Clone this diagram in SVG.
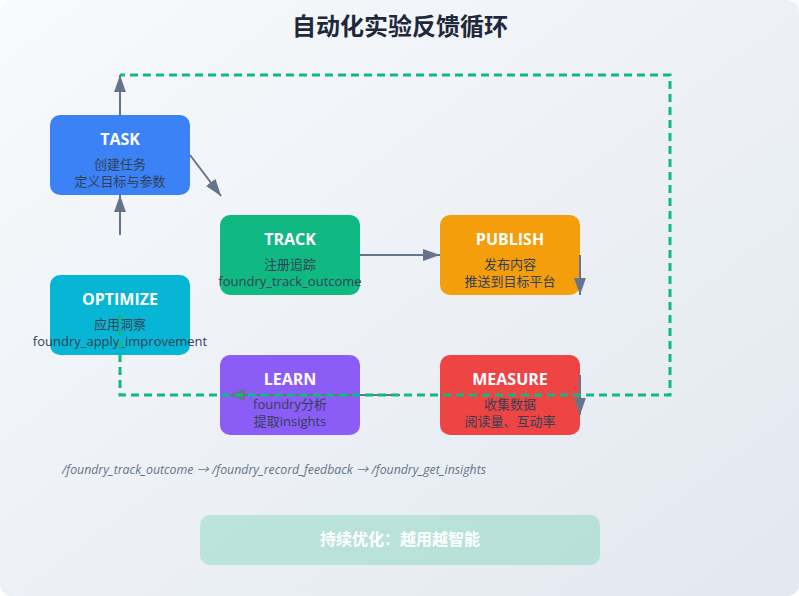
<svg xmlns="http://www.w3.org/2000/svg" width="799" height="596" viewBox="0 0 799 596">
  <defs>
    <linearGradient id="bg" x1="0" y1="0" x2="1" y2="1">
      <stop offset="0" stop-color="#f8fafc"/>
      <stop offset="1" stop-color="#e2e8f0"/>
    </linearGradient>
    <marker id="arr" viewBox="0 0 10 7" refX="10" refY="3.5" markerWidth="17" markerHeight="12" markerUnits="userSpaceOnUse" orient="auto">
      <path d="M0,0 L10,3.5 L0,7 Z" fill="#64748b"/>
    </marker>
    <style>
      text { font-family: "Open Sans", "Noto Sans CJK SC", sans-serif; }
      .box { stroke: none; }
      .title { font-size: 24px; font-weight: bold; fill: #1e293b; text-anchor: middle; }
      .nt { font-size: 16px; font-weight: bold; fill: #ffffff; text-anchor: middle; }
      .ns { font-size: 13px; fill: #334155; text-anchor: middle; }
      .flow { stroke: #64748b; stroke-width: 2; fill: none; marker-end: url(#arr); }
      .loop { stroke: #10b981; stroke-width: 3; fill: none; stroke-dasharray: 8 5; }
      .api { font-size: 12.3px; font-style: italic; fill: #64748b; }
      .banner { font-size: 16px; font-weight: bold; fill: #ffffff; text-anchor: middle; }
    </style>
  </defs>

  <rect x="0" y="0" width="799" height="596" rx="12" fill="url(#bg)"/>

  <text class="title" x="400" y="35">自动化实验反馈循环</text>

  <g id="task">
    <rect class="box" x="50" y="115" width="140" height="80" rx="10" fill="#3b82f6"/>
    <text class="nt" x="120" y="145">TASK</text>
    <text class="ns" x="120" y="169">创建任务</text>
    <text class="ns" x="120" y="186">定义目标与参数</text>
  </g>

  <g id="track">
    <rect class="box" x="220" y="215" width="140" height="80" rx="10" fill="#10b981"/>
    <text class="nt" x="290" y="245">TRACK</text>
    <text class="ns" x="290" y="269">注册追踪</text>
    <text class="ns" x="290" y="286">foundry_track_outcome</text>
  </g>

  <g id="publish">
    <rect class="box" x="440" y="215" width="140" height="80" rx="10" fill="#f59e0b"/>
    <text class="nt" x="510" y="245">PUBLISH</text>
    <text class="ns" x="510" y="269">发布内容</text>
    <text class="ns" x="510" y="286">推送到目标平台</text>
  </g>

  <g id="optimize">
    <rect class="box" x="50" y="275" width="140" height="80" rx="10" fill="#06b6d4"/>
    <text class="nt" x="120" y="305">OPTIMIZE</text>
    <text class="ns" x="120" y="329">应用洞察</text>
    <text class="ns" x="120" y="346">foundry_apply_improvement</text>
  </g>

  <g id="learn">
    <rect class="box" x="220" y="355" width="140" height="80" rx="10" fill="#8b5cf6"/>
    <text class="nt" x="290" y="385">LEARN</text>
    <text class="ns" x="290" y="409">foundry分析</text>
    <text class="ns" x="290" y="426">提取insights</text>
  </g>

  <g id="measure">
    <rect class="box" x="440" y="355" width="140" height="80" rx="10" fill="#ef4444"/>
    <text class="nt" x="510" y="385">MEASURE</text>
    <text class="ns" x="510" y="409">收集数据</text>
    <text class="ns" x="510" y="426">阅读量、互动率</text>
  </g>

  <g id="connectors">
    <line class="flow" x1="120" y1="115" x2="120" y2="75"/>
    <line class="flow" x1="120" y1="235" x2="120" y2="195"/>
    <line class="flow" x1="190" y1="155" x2="221" y2="196"/>
    <line class="flow" x1="360" y1="255" x2="440" y2="255"/>
    <line class="flow" x1="580" y1="255" x2="580" y2="295"/>
    <line class="flow" x1="580" y1="375" x2="580" y2="415"/>
    <line class="flow" x1="400" y1="395" x2="228" y2="395"/>
    <polyline class="loop" points="120,315 120,395 670,395 670,75 120,75"/>
  </g>

  <text class="api" x="62" y="474">/foundry_track_outcome → /foundry_record_feedback → /foundry_get_insights</text>

  <g id="banner">
    <rect x="200" y="515" width="400" height="50" rx="10" fill="#10b981" fill-opacity="0.22"/>
    <text class="banner" x="400" y="545">持续优化：越用越智能</text>
  </g>
</svg>
